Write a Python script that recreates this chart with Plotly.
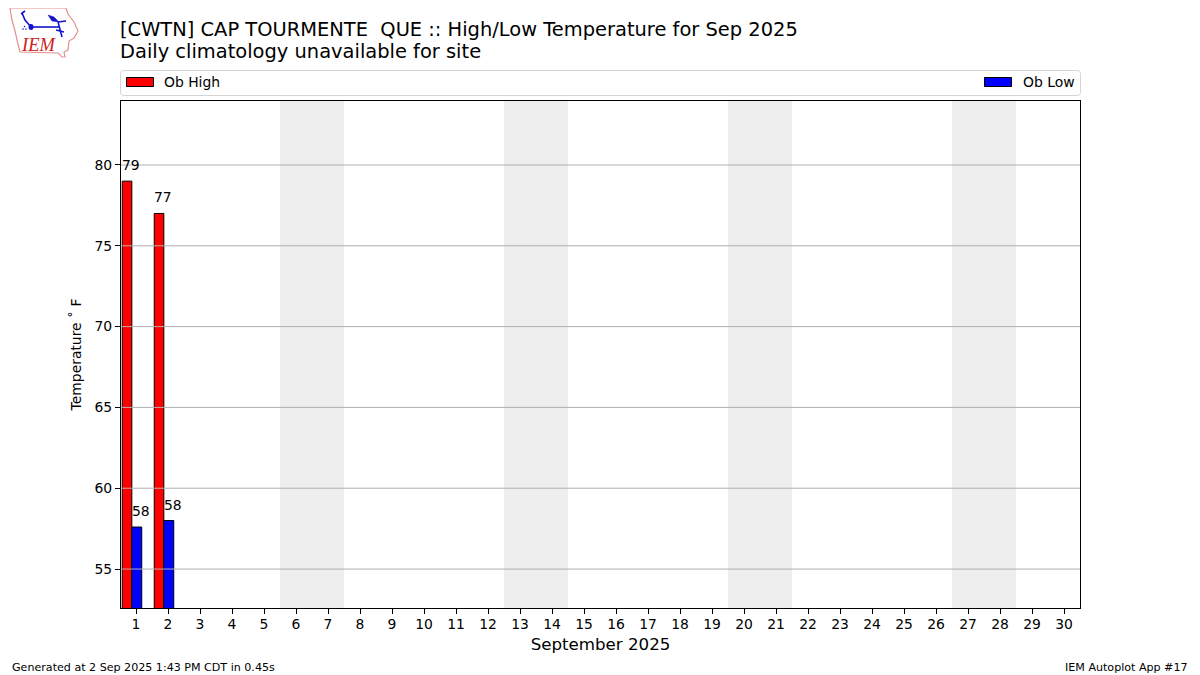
import plotly.graph_objects as go

FONT = "DejaVu Sans"
OFF = 8  # page margin of the browser
W, H = 1200 - OFF, 675 - OFF
L, R, T, B = 121, 1080, 101, 608
PX_PER_DAY = 32.0
PX_PER_DEG = 16.16

days = list(range(1, 31))
ob_day = [1, 2]
ob_high = [79, 77]
ob_low = [57.6, 58]
high_labels = ["79", "77"]
low_labels = ["58", "58"]
weekend_starts = [6, 13, 20, 27]
y_ticks = [55, 60, 65, 70, 75, 80]
title_1 = "[CWTN] CAP TOURMENTE\u00a0 QUE :: High/Low Temperature for Sep 2025"
title_2 = "Daily climatology unavailable for site"
footer_left = "Generated at 2 Sep 2025 1:43 PM CDT in 0.45s"
footer_right = "IEM Autoplot App #17"


def px(x):
    return (x - L) / (R - L)


def py(y):
    return 1 - (y - T) / (B - T)


def logo_path(points, close=True):
    d = "M" + " L".join(f"{px(x):.5f},{py(y):.5f}" for x, y in points)
    return d + (" Z" if close else "")


fig = go.Figure()
fig.add_bar(x=ob_day, y=ob_high, name="Ob High", width=0.3, offset=-0.43,
            marker=dict(color="#ff0000", line=dict(color="black", width=1)))
fig.add_bar(x=ob_day, y=ob_low, name="Ob Low", width=0.31, offset=-0.13,
            marker=dict(color="#0000ff", line=dict(color="black", width=1)))

shapes = []
for s in weekend_starts:
    shapes.append(dict(type="rect", xref="x", yref="paper", x0=s - 0.5, x1=s + 1.5,
                       y0=0, y1=1, fillcolor="#eeeeee", line_width=0, layer="below"))
for t in y_ticks:
    shapes.append(dict(type="line", xref="paper", yref="y", x0=0, x1=1, y0=t, y1=t,
                       line=dict(color="#b0b0b0", width=1), layer="above"))
# legend frame (rounded) and swatches
x0, x1, y0, y1, r = px(120.5), px(1080.5), py(95.5), py(70.5), 3
rx, ry = r / (R - L), r / (B - T)
shapes.append(dict(type="path", xref="paper", yref="paper",
                   path=(f"M{x0+rx:.5f},{y0:.5f} L{x1-rx:.5f},{y0:.5f} Q{x1:.5f},{y0:.5f} {x1:.5f},{y0+ry:.5f} "
                         f"L{x1:.5f},{y1-ry:.5f} Q{x1:.5f},{y1:.5f} {x1-rx:.5f},{y1:.5f} "
                         f"L{x0+rx:.5f},{y1:.5f} Q{x0:.5f},{y1:.5f} {x0:.5f},{y1-ry:.5f} "
                         f"L{x0:.5f},{y0+ry:.5f} Q{x0:.5f},{y0:.5f} {x0+rx:.5f},{y0:.5f} Z"),
                   line=dict(color="#d5d5d5", width=1), fillcolor="white"))
shapes.append(dict(type="rect", xref="paper", yref="paper", x0=px(126.5), x1=px(153.5),
                   y0=py(86.5), y1=py(77.5), line=dict(color="black", width=1),
                   fillcolor="#ff0000"))
shapes.append(dict(type="rect", xref="paper", yref="paper", x0=px(984.5), x1=px(1011.5),
                   y0=py(86.5), y1=py(77.5), line=dict(color="black", width=1),
                   fillcolor="#0000ff"))
# logo (decorative)
shapes.append(dict(type="path", xref="paper", yref="paper",
                   path=logo_path([(10, 8), (66, 8), (68, 14), (74, 22), (78, 31), (74, 38), (69, 41),
                                   (68, 50), (64, 52), (65, 57), (62, 57), (58, 53), (20, 52), (18, 44),
                                   (15, 31), (12, 20)]),
                   line=dict(color="#e49090", width=1.2), fillcolor="white"))
for pts in ([(31, 27), (59, 27)], [(58, 22), (62, 37)], [(22, 13), (25, 20), (31, 27)],
            [(58, 22), (66, 21)], [(56, 30), (64, 32)], [(21, 14), (25, 11)]):
    shapes.append(dict(type="path", xref="paper", yref="paper", path=logo_path(pts, False),
                       line=dict(color="#1414cc", width=1.6)))
shapes.append(dict(type="path", xref="paper", yref="paper",
                   path=logo_path([(48, 15), (54, 17), (59, 22), (52, 21)]),
                   line=dict(color="#1414cc", width=0.5), fillcolor="#1414cc"))
shapes.append(dict(type="circle", xref="paper", yref="paper", x0=px(28.5), x1=px(33.5),
                   y0=py(30), y1=py(24), line_width=0, fillcolor="#1414cc"))
for cx, cy in [(23, 29), (26, 29), (24.5, 26.5)]:
    shapes.append(dict(type="circle", xref="paper", yref="paper", x0=px(cx - 0.8), x1=px(cx + 0.8),
                       y0=py(cy + 0.8), y1=py(cy - 0.8), line_width=0, fillcolor="#1414cc"))

ann = []
for d, v, t in zip(ob_day, ob_high, high_labels):
    ann.append(dict(x=d - 0.44, y=v, text=t, xref="x", yref="y", xanchor="left", yanchor="bottom",
                    showarrow=False, yshift=8, xshift=0, font=dict(size=13.9, color="black", family=FONT),
                    borderpad=0, borderwidth=0))
for d, v, t in zip(ob_day, ob_low, low_labels):
    ann.append(dict(x=d - 0.14, y=v, text=t, xref="x", yref="y", xanchor="left", yanchor="bottom",
                    showarrow=False, yshift=8, xshift=0, font=dict(size=13.9, color="black", family=FONT),
                    borderpad=0, borderwidth=0))


def text(x, y, s, size, xanchor="left", yanchor="middle", **kw):
    ann.append(dict(x=px(x), y=py(y), xref="paper", yref="paper", text=s, showarrow=False,
                    xanchor=xanchor, yanchor=yanchor, borderpad=0, borderwidth=0,
                    font=dict(size=size, color="black", family=FONT), **kw))


text(120, 29.6, title_1, 19.44)
text(120, 51.6, title_2, 19.44)
text(164, 81.6, "Ob High", 13.9)
text(1023, 81.6, "Ob Low", 13.9)
text(12, 667, footer_left, 11.1)
text(1188, 667, footer_right, 11.1, xanchor="right")
ann.append(dict(x=px(20), y=py(45), xref="paper", yref="paper", text="<i>IEM</i>", showarrow=False,
                xanchor="left", yanchor="middle", borderpad=0,
                font=dict(size=18.5, color="#d02020", family="Liberation Serif")))

fig.update_layout(
    width=W, height=H, autosize=False, barmode="overlay", showlegend=False,
    paper_bgcolor="white", plot_bgcolor="white",
    margin=dict(l=L - OFF, r=W - (R - OFF), t=T - OFF, b=H - (B - OFF)),
    font=dict(family=FONT, size=13.9, color="black"),
    shapes=shapes, annotations=ann,
    xaxis=dict(range=[0.5 + 1 / PX_PER_DAY, 30.5], tickmode="array", tickvals=days, ticktext=[str(d) for d in days],
               ticks="outside", ticklen=5, tickcolor="black", tickwidth=1, showgrid=False, zeroline=False,
               showline=True, mirror=True, linecolor="black", linewidth=1, ticklabelstandoff=-2,
               title=dict(text="September 2025", font=dict(size=16.67, family=FONT), standoff=7)),
    yaxis=dict(range=[52.59, 84.02 - 1 / PX_PER_DEG], tickmode="array", tickvals=y_ticks, ticks="outside", ticklen=5,
               tickcolor="black", tickwidth=1, showgrid=False, zeroline=False,
               showline=True, mirror=True, linecolor="black", linewidth=1,
               title=dict(text="Temperature \u02da F", font=dict(size=13.9, family=FONT), standoff=9)),
)
fig.write_html("out.html")
